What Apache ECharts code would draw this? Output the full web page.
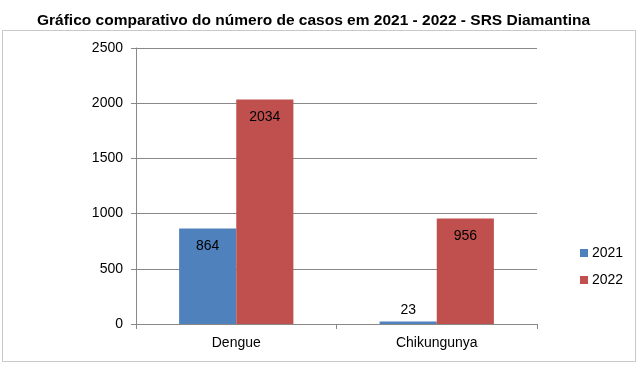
<!DOCTYPE html>
<html><head><meta charset="utf-8">
<script src="https://cdn.jsdelivr.net/npm/echarts@6/dist/echarts.min.js"></script>
<style>html,body{margin:0;padding:0;background:#fff}#c{width:640px;height:368px}</style>
</head><body><div id="c"></div>
<script>
const categories = ['Dengue', 'Chikungunya'];
const seriesNames = ['2021', '2022'];
const values2021 = [864, 23];
const values2022 = [2034, 956];
const yTicks = [0, 500, 1000, 1500, 2000, 2500];

const chart = echarts.init(document.getElementById('c'), null, {renderer: 'canvas'});
const font = '"Liberation Sans", Arial, sans-serif';
function lab(v) {
  return {value: v, label: {position: v < 200 ? 'top' : 'insideTop', distance: v < 200 ? 4 : 11}};
}
chart.setOption({
  animation: false,
  title: {text: 'Gráfico comparativo do número de casos em 2021 - 2022 - SRS Diamantina', left: 32, top: 8,
    textStyle: {fontFamily: font, fontSize: 15.5, fontWeight: 'bold', color: '#000'}},
  graphic: [{type: 'rect', shape: {x: 2.5, y: 30.5, width: 633, height: 331}, style: {fill: 'none', stroke: '#c8c8c8', lineWidth: 1}, z: -1}],
  legend: {orient: 'vertical', left: 575, top: 241, itemWidth: 8, itemHeight: 8, itemGap: 13, icon: 'rect',
    textStyle: {fontFamily: font, fontSize: 14, color: '#000', padding: [0, 0, 0, -1]}, data: seriesNames},
  grid: {left: 136, right: 103, top: 48, bottom: 44},
  xAxis: {type: 'category', data: categories,
    axisLine: {lineStyle: {color: '#888'}}, axisTick: {show: true, length: 5, lineStyle: {color: '#888'}},
    axisLabel: {fontFamily: font, fontSize: 14, color: '#000', margin: 12}},
  yAxis: {type: 'value', min: yTicks[0], max: yTicks[yTicks.length - 1], interval: 500,
    axisLine: {show: true, lineStyle: {color: '#888'}}, axisTick: {show: true, length: 5, lineStyle: {color: '#888'}},
    splitLine: {lineStyle: {color: '#888'}},
    axisLabel: {fontFamily: font, fontSize: 14, color: '#000', margin: 13, formatter: v => String(v)}},
  series: [
    {name: seriesNames[0], type: 'bar', data: values2021.map(lab), barGap: '0%', barCategoryGap: '43%',
      itemStyle: {color: '#4F81BD'}, label: {show: true, color: '#000', fontFamily: font, fontSize: 14}},
    {name: seriesNames[1], type: 'bar', data: values2022.map(lab),
      itemStyle: {color: '#C0504D'}, label: {show: true, color: '#000', fontFamily: font, fontSize: 14}}
  ]
});
</script></body></html>
